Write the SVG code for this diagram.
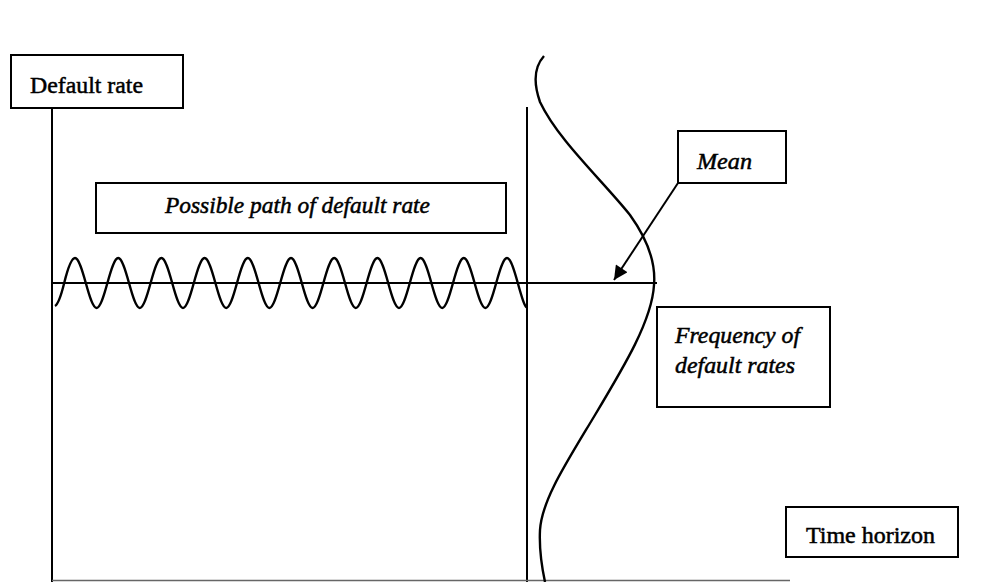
<svg xmlns="http://www.w3.org/2000/svg" width="988" height="582" viewBox="0 0 988 582">
  <style>
    .box { fill: #fff; stroke: #000; stroke-width: 2; }
    .axis { stroke: #000; stroke-width: 2; fill: none; }
    .curve { stroke: #000; stroke-width: 2.4; fill: none; }
    .lbl { font-family: "Liberation Serif", "Times New Roman", serif; font-size: 23px; fill: #000; stroke: #000; stroke-width: 0.5; }
    .it { font-style: italic; }
  </style>
  <defs>
    <marker id="arrow" viewBox="0 0 10 10" refX="10" refY="5" markerWidth="8" markerHeight="7" markerUnits="strokeWidth" orient="auto">
      <path d="M0,0 L10,5 L0,10 Z" fill="#000"/>
    </marker>
  </defs>
  <rect width="988" height="582" fill="#fff"/>

  <g id="axes">
    <line class="axis" x1="52" y1="108" x2="52" y2="582"/>
    <line class="axis" x1="527" y1="107" x2="527" y2="582"/>
    <line x1="52" y1="580.5" x2="790" y2="580.5" stroke="#666" stroke-width="1.5"/>
    <line class="axis" x1="53" y1="283" x2="657" y2="283"/>
  </g>

  <g id="path-wave">
    <path class="curve" d="M55,306 C58.5,304 61,296 64.2,283 s7.2,-25 10.8,-25 s7.19,11.87 10.8,25 s7.2,25 10.8,25 s7.19,-11.87 10.8,-25 s7.2,-25 10.8,-25 s7.19,11.87 10.8,25 s7.2,25 10.8,25 s7.19,-11.87 10.8,-25 s7.2,-25 10.8,-25 s7.19,11.87 10.8,25 s7.2,25 10.8,25 s7.19,-11.87 10.8,-25 s7.2,-25 10.8,-25 s7.19,11.87 10.8,25 s7.2,25 10.8,25 s7.19,-11.87 10.8,-25 s7.2,-25 10.8,-25 s7.19,11.87 10.8,25 s7.2,25 10.8,25 s7.19,-11.87 10.8,-25 s7.2,-25 10.8,-25 s7.19,11.87 10.8,25 s7.2,25 10.8,25 s7.19,-11.87 10.8,-25 s7.2,-25 10.8,-25 s7.19,11.87 10.8,25 s7.2,25 10.8,25 s7.19,-11.87 10.8,-25 s7.2,-25 10.8,-25 s7.19,11.87 10.8,25 s7.2,25 10.8,25 s7.19,-11.87 10.8,-25 s7.2,-25 10.8,-25 s7.19,11.87 10.8,25 s7.2,25 10.8,25 s7.19,-11.87 10.8,-25 s7.2,-25 10.8,-25 s7.19,11.87 10.8,25 s7.2,25 10.8,25 s7.19,-11.87 10.8,-25 s7.2,-25 10.8,-25 s7.19,11.87 10.8,25 s7.2,25 9,24"/>
  </g>

  <g id="distribution">
    <path class="curve" d="M544,56 C535,66 533,82 540,102 C558,140 602,180 630,215 C648,240 656,262 654,285 C652,320 625,365 595,415 C565,465 542,500 540,530 C539,550 542,568 545,582"/>
  </g>

  <g id="default-rate">
    <rect class="box" x="11" y="55" width="172" height="53"/>
    <text class="lbl" x="30" y="93" textLength="113" lengthAdjust="spacingAndGlyphs">Default rate</text>
  </g>

  <g id="possible-path">
    <rect class="box" x="96" y="183" width="410" height="50"/>
    <text class="lbl it" x="165" y="213" textLength="265" lengthAdjust="spacingAndGlyphs">Possible path of default rate</text>
  </g>

  <g id="mean">
    <rect class="box" x="678" y="131" width="108" height="52"/>
    <text class="lbl it" x="697" y="169" textLength="55" lengthAdjust="spacingAndGlyphs">Mean</text>
  </g>

  <g id="frequency">
    <rect class="box" x="657" y="307" width="173" height="100"/>
    <text class="lbl it" x="675" y="343" textLength="125" lengthAdjust="spacingAndGlyphs">Frequency of</text>
    <text class="lbl it" x="675" y="373" textLength="120" lengthAdjust="spacingAndGlyphs">default rates</text>
  </g>

  <g id="time-horizon">
    <rect class="box" x="786" y="507" width="172" height="50"/>
    <text class="lbl" x="806" y="543" textLength="129" lengthAdjust="spacingAndGlyphs">Time horizon</text>
  </g>

  <g id="connectors">
    <line x1="678" y1="183" x2="614" y2="280" stroke="#000" stroke-width="2" marker-end="url(#arrow)"/>
  </g>
</svg>
